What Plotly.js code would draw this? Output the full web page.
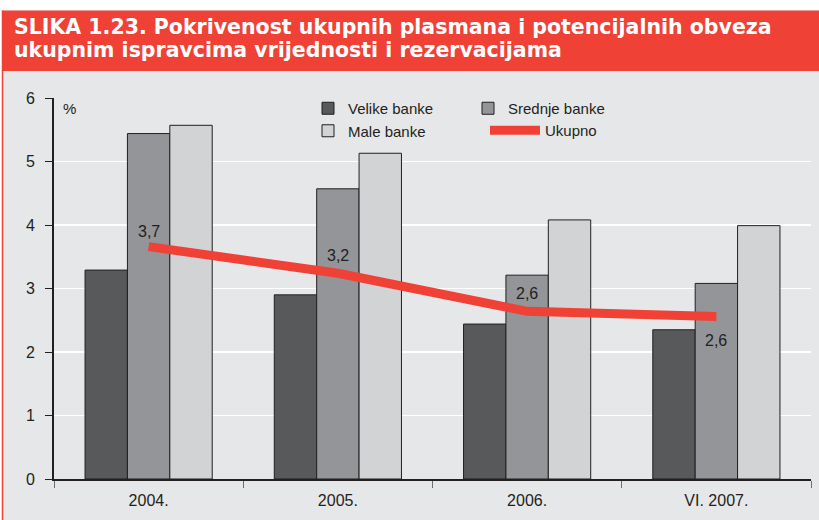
<!DOCTYPE html>
<html>
<head>
<meta charset="utf-8">
<script src="https://cdn.plot.ly/plotly-3.0.1.min.js"></script>
<style>
html,body{margin:0;padding:0;background:#ffffff;}
#chart{width:819px;height:520px;}
</style>
</head>
<body>
<div id="chart"></div>
<script>
// ---- data ----
var categories = ['2004.', '2005.', '2006.', 'VI. 2007.'];
var velikeBanke = [3.29, 2.90, 2.44, 2.35];
var srednjeBanke = [5.44, 4.57, 3.21, 3.08];
var maleBanke = [5.57, 5.13, 4.08, 3.99];
var ukupno = [3.66, 3.24, 2.64, 2.56];
var yTicks = [0, 1, 2, 3, 4, 5, 6];
var titleLine1 = 'SLIKA 1.23. Pokrivenost ukupnih plasmana i potencijalnih obveza';
var titleLine2 = 'ukupnim ispravcima vrijednosti i rezervacijama';
var unitLabel = '%';

// ---- styles ----
var RED = '#ef4136';
var TXT = '#231f20';
var BG = '#e6e7e8';
var FONT = 'Liberation Sans, Arial, sans-serif';
var labelShift = [15, 18, 18, -24];

// pixel helpers for paper-referenced decorations
var L = 54, R = 8, T = 98, B = 41, W = 819, H = 520;
var pw = W - L - R, ph = H - T - B;
function px(x) { return (x - L) / pw; }
function py(y) { return (H - B - y) / ph; }

function barTrace(name, vals, color, legend) {
  return {
    type: 'bar', name: name, x: categories, y: vals,
    marker: { color: color, line: { color: TXT, width: 1 } },
    legend: legend, hoverinfo: 'x+y'
  };
}

var traces = [
  barTrace('Velike banke', velikeBanke, '#58595b', 'legend'),
  barTrace('Srednje banke', srednjeBanke, '#939598', 'legend2'),
  barTrace('Male banke', maleBanke, '#d1d3d4', 'legend'),
  {
    type: 'scatter', mode: 'lines', name: 'Ukupno', x: categories, y: ukupno,
    line: { color: RED, width: 9 }, legend: 'legend3'
  }
];

// value labels on the Ukupno line (category index used as x position)
var annotations = ukupno.map(function (v, i) {
  return {
    x: i, y: v, xref: 'x', yref: 'y',
    text: v.toFixed(1).replace('.', ','), showarrow: false,
    yshift: labelShift[i], font: { family: FONT, size: 16, color: TXT }
  };
});
annotations.push(
  { xref: 'paper', yref: 'paper', x: px(12), y: py(27), xanchor: 'left', yanchor: 'middle',
    text: '<b>' + titleLine1 + '</b>', showarrow: false,
    font: { family: 'DejaVu Sans, sans-serif', size: 20.5, color: '#ffffff' } },
  { xref: 'paper', yref: 'paper', x: px(12), y: py(50), xanchor: 'left', yanchor: 'middle',
    text: '<b>' + titleLine2 + '</b>', showarrow: false,
    font: { family: 'DejaVu Sans, sans-serif', size: 20.5, color: '#ffffff' } },
  { xref: 'paper', yref: 'paper', x: px(69), y: py(108), xanchor: 'center', yanchor: 'middle',
    text: unitLabel, showarrow: false, font: { family: FONT, size: 15, color: TXT } }
);

var shapes = [
  { type: 'rect', xref: 'paper', yref: 'paper', x0: px(-5), x1: px(830), y0: py(0), y1: py(10.5),
    fillcolor: '#ffffff', line: { width: 0 }, layer: 'below' },
  { type: 'rect', xref: 'paper', yref: 'paper', x0: px(-5), x1: px(2), y0: py(0), y1: py(530),
    fillcolor: '#ffffff', line: { width: 0 }, layer: 'below' },
  { type: 'rect', xref: 'paper', yref: 'paper', x0: px(2), x1: px(830), y0: py(10.5), y1: py(71),
    fillcolor: RED, line: { width: 0 }, layer: 'below' },
  { type: 'line', xref: 'paper', yref: 'paper', x0: px(2.5), x1: px(2.5), y0: py(10.5), y1: py(530),
    line: { color: RED, width: 1.5 }, layer: 'below' }
];

var legendCommon = {
  bgcolor: 'rgba(0,0,0,0)', borderwidth: 0,
  font: { family: FONT, size: 15, color: TXT },
  xanchor: 'left', yanchor: 'top', orientation: 'v', tracegroupgap: 0
};

var layout = {
  width: W, height: H,
  margin: { l: L, r: R, t: T, b: B, pad: 0 },
  paper_bgcolor: BG, plot_bgcolor: BG,
  barmode: 'group', bargap: 0.328, bargroupgap: 0,
  showlegend: true,
  legend: Object.assign({}, legendCommon, { x: px(308), y: py(92) }),
  legend2: Object.assign({}, legendCommon, { x: px(468), y: py(92) }),
  legend3: Object.assign({}, legendCommon, { x: px(485), y: py(114), itemwidth: 50 }),
  xaxis: {
    type: 'category', range: [-0.5, categories.length - 0.5],
    showgrid: false, zeroline: false,
    showline: true, linecolor: TXT, linewidth: 2,
    ticks: 'outside', tickson: 'boundaries', ticklen: 7, tickcolor: '#6d6e71', tickwidth: 1,
    ticklabelstandoff: 6,
    tickfont: { family: FONT, size: 16, color: TXT }
  },
  yaxis: {
    range: [0, 6], tickvals: yTicks, ticktext: yTicks.map(String),
    showgrid: true, gridcolor: '#ffffff', gridwidth: 1.5, zeroline: false,
    showline: true, linecolor: TXT, linewidth: 2,
    ticks: 'outside', ticklen: 7, tickcolor: TXT, tickwidth: 1,
    ticklabelstandoff: 7,
    tickfont: { family: FONT, size: 16, color: TXT }
  },
  shapes: shapes,
  annotations: annotations
};

Plotly.newPlot('chart', traces, layout, { displayModeBar: false, staticPlot: true });
</script>
</body>
</html>
